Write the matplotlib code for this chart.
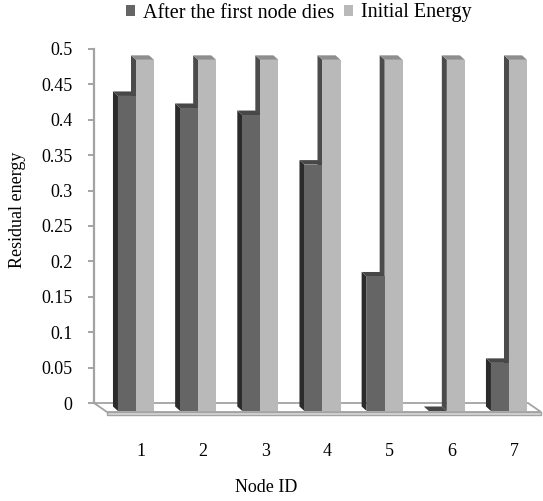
import numpy as np
import matplotlib
matplotlib.use("Agg")
import matplotlib.pyplot as plt
from matplotlib.patches import Polygon

# ---- data ----
node_ids = ["1", "2", "3", "4", "5", "6", "7"]
after_first_death = [0.445, 0.428, 0.418, 0.348, 0.19, 0.0, 0.068]
initial_energy = [0.496, 0.496, 0.496, 0.496, 0.496, 0.496, 0.496]
y_ticks = [0, 0.05, 0.1, 0.15, 0.2, 0.25, 0.3, 0.35, 0.4, 0.45, 0.5]
y_tick_labels = ["0", "0.05", "0.1", "0.15", "0.2", "0.25", "0.3", "0.35", "0.4", "0.45", "0.5"]
series_names = ["After the first node dies", "Initial Energy"]

# ---- style ----
plt.rcParams['font.family'] = ['Liberation Serif', 'DejaVu Serif']
W, H, DPI = 543, 501, 100
fig = plt.figure(figsize=(W / DPI, H / DPI), dpi=DPI)

dark_front, dark_side, dark_top = "#656565", "#2b2b2b", "#474747"
light_front, light_side, light_top = "#b9b9b9", "#4b4b4b", "#8e8e8e"
axis_gray = "#a3a3a3"

# wall axes (value axis on back wall)
wall = fig.add_axes([94 / W, (H - 403) / H, (528 - 94) / W, 354 / H])
wall.set_ylim(0, 0.5)
wall.set_xlim(0, 1)
wall.patch.set_visible(False)
for s in ["top", "right", "bottom"]:
    wall.spines[s].set_visible(False)
wall.spines["left"].set_color(axis_gray)
wall.spines["left"].set_linewidth(1.6)
wall.set_xticks([])
wall.set_yticks(y_ticks)
wall.set_yticklabels(y_tick_labels)
wall.tick_params(axis="y", direction="out", length=4.3, width=1.4, color=axis_gray,
                 pad=11, labelsize=13, labelcolor="black")

# floor (decoration) in wall axes fraction coords
fx = 13 / 434
fy = 9 / 354
th = 3 / 354
floor_top = Polygon([(0, 0), (1, 0), (1 + fx, -fy), (fx, -fy)], closed=True,
                    transform=wall.transAxes, facecolor="white", edgecolor=axis_gray,
                    linewidth=1.3, clip_on=False, zorder=1)
floor_front = Polygon([(fx, -fy), (1 + fx, -fy), (1 + fx, -fy - th), (fx, -fy - th)], closed=True,
                      transform=wall.transAxes, facecolor="#d9d9d9", edgecolor=axis_gray,
                      linewidth=1.0, clip_on=False, zorder=1)
wall.add_patch(floor_top)
wall.add_patch(floor_front)

# bar axes (front plane of the bars)
ax = fig.add_axes([108 / W, (H - 411) / H, 434 / W, 354 / H])
ax.patch.set_visible(False)
for s in ax.spines.values():
    s.set_visible(False)
ax.set_xlim(-0.4504, 6.531)
ax.set_ylim(0, 0.5)
ax.set_yticks([])

x = np.arange(len(node_ids))
bw = 0.29
depth_px = (-5, 4.5)


def off(px, py):
    p = ax.transData.transform((px, py))
    return ax.transData.inverted().transform((p[0] + depth_px[0], p[1] + depth_px[1]))


dx_d, dy_d = off(0, 0) - np.array([0.0, 0.0])


def draw_3d(xl, v, side_c, top_c, z):
    xr = xl + bw
    side = Polygon([(xl, 0), (xl, v), (xl + dx_d, v + dy_d), (xl + dx_d, dy_d)],
                   closed=True, facecolor=side_c, edgecolor="none", zorder=z, clip_on=False)
    top = Polygon([(xl, v), (xr, v), (xr + dx_d, v + dy_d), (xl + dx_d, v + dy_d)],
                  closed=True, facecolor=top_c, edgecolor="none", zorder=z, clip_on=False)
    ax.add_patch(side)
    ax.add_patch(top)


for i in range(len(x)):
    # light bar back faces first, then dark bar faces (in front)
    draw_3d(x[i], initial_energy[i], light_side, light_top, 2)
    draw_3d(x[i] - bw, after_first_death[i], dark_side, dark_top, 3)

b1 = ax.bar(x - bw / 2, after_first_death, width=bw, color=dark_front, zorder=4,
            label=series_names[0], clip_on=False)
b2 = ax.bar(x + bw / 2, initial_energy, width=bw, color=light_front, zorder=4,
            label=series_names[1], clip_on=False)

label_shift = 5 / 62.17
ax.set_xticks(x + label_shift)
ax.set_xticklabels(node_ids)
ax.tick_params(axis="x", length=0, pad=23, labelsize=13, labelcolor="black")

fig.text(266 / W, 1 - 487 / H, "Node ID", ha="center", va="center", fontsize=13)
fig.text(18 / W, 1 - 210 / H, "Residual energy", ha="center", va="center",
         rotation=90, fontsize=13)

fig.legend(handles=[b1, b2], labels=series_names, loc="center left",
           bbox_to_anchor=(126 / W, 1 - 13 / H), ncol=2, frameon=False,
           fontsize=14.5, handlelength=0.45, handleheight=0.45, handletextpad=0.4,
           columnspacing=0.45, borderpad=0, borderaxespad=0)

fig.savefig("out.png", dpi=DPI)
